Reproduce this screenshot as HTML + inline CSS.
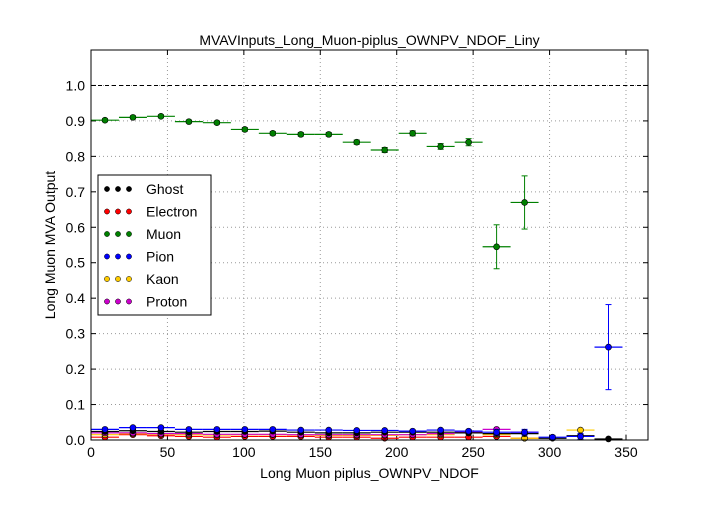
<!DOCTYPE html>
<html><head><meta charset="utf-8"><style>
body{margin:0;background:#fff;font-family:"Liberation Sans",sans-serif}
svg text{font-family:"Liberation Sans",sans-serif}
</style></head><body>
<svg id="c" width="720" height="504"></svg>
<script>
const binWidth=18.3;
const muon=[0.902,0.910,0.913,0.898,0.895,0.876,0.865,0.862,0.862,0.840,0.818,0.865,0.828,0.840,0.545,0.670];
const muonErr=[0.004,0.004,0.004,0.004,0.004,0.005,0.005,0.005,0.005,0.006,0.007,0.007,0.008,0.01,0.062,0.075];
const pion=[0.030,0.035,0.035,0.030,0.030,0.030,0.030,0.028,0.028,0.027,0.027,0.025,0.028,0.025,0.022,0.022,0.008,0.010,0.262];
const pionErr=[0.002,0.002,0.002,0.002,0.002,0.002,0.002,0.002,0.002,0.002,0.002,0.002,0.003,0.004,0.008,0.008,0.005,0.008,0.12];
const ghost=[0.024,0.026,0.024,0.022,0.024,0.024,0.025,0.022,0.020,0.020,0.022,0.022,0.022,0.020,0.018,0.018,0.005,0.012,0.003];
const electron=[0.008,0.015,0.012,0.010,0.008,0.010,0.010,0.010,0.008,0.008,0.005,0.008,0.008,0.008,0.010,0.005,0,0,0];
const kaon=[0.015,0.018,0.016,0.015,0.014,0.015,0.015,0.014,0.013,0.013,0.013,0.015,0.015,0.020,0.015,0.005,0,0.028,0];
const proton=[0.020,0.020,0.018,0.018,0.016,0.016,0.016,0.015,0.015,0.015,0.015,0.015,0.018,0.022,0.030,0.022,0,0,0];
const xTicks=[0,50,100,150,200,250,300,350];
const yTicks=[0,0.1,0.2,0.3,0.4,0.5,0.6,0.7,0.8,0.9,1.0];
const L=91,R=648,T=50,B=440,XMAX=364.4,YMAX=1.1;
const sx=v=>L+v/XMAX*(R-L), sy=v=>B-v/YMAX*(B-T);
const svg=document.getElementById('c');const NS='http://www.w3.org/2000/svg';
function el(t,a,p){const e=document.createElementNS(NS,t);for(const k in a)e.setAttribute(k,a[k]);(p||svg).appendChild(e);return e;}
// grid
xTicks.forEach(v=>{if(v>0){const g=el('line',{x1:sx(v),x2:sx(v),y1:T,y2:B,stroke:'#999','stroke-dasharray':'1,3'});

}
const t=el('text',{x:sx(v),y:B+17,'text-anchor':'middle','font-size':14});t.textContent=v;


el('line',{x1:sx(v),x2:sx(v),y1:B,y2:B-5,stroke:'#000'});el('line',{x1:sx(v),x2:sx(v),y1:T,y2:T+5,stroke:'#000'});});
yTicks.forEach(v=>{if(v>0){const g=el('line',{x1:L,x2:R,y1:sy(v),y2:sy(v),stroke:'#999','stroke-dasharray':'1,3'});

}
const t=el('text',{x:L-6,y:sy(v)+5,'text-anchor':'end','font-size':14});t.textContent=v.toFixed(1);


el('line',{x1:L,x2:L+5,y1:sy(v),y2:sy(v),stroke:'#000'});el('line',{x1:R,x2:R-5,y1:sy(v),y2:sy(v),stroke:'#000'});});
const ref=el('line',{x1:L,x2:R,y1:sy(1),y2:sy(1),stroke:'#000','stroke-dasharray':'4,3'});


function series(vals,errs,color,name){
const g=el('g',{});


vals.forEach((v,i)=>{if(v<=0&&name!=='muon')return;
const x0=sx(i*binWidth),x1=sx((i+1)*binWidth),cx=sx((i+0.5)*binWidth),cy=sy(v);
el('line',{x1:x0,x2:x1,y1:cy,y2:cy,stroke:color,'stroke-width':1.2},g);
const e=errs?errs[i]:0.002;
el('line',{x1:cx,x2:cx,y1:sy(v-e),y2:sy(v+e),stroke:color},g);
el('line',{x1:cx-3,x2:cx+3,y1:sy(v-e),y2:sy(v-e),stroke:color},g);
el('line',{x1:cx-3,x2:cx+3,y1:sy(v+e),y2:sy(v+e),stroke:color},g);
const d=el('circle',{cx:cx,cy:cy,r:3,fill:color,stroke:'#000','stroke-width':0.6},g);

});}
series(electron,null,'#ff0000','electron');
series(kaon,null,'#ffcc00','kaon');
series(proton,null,'#cc00cc','proton');
series(ghost,null,'#000000','ghost');
series(pion,pionErr,'#0000ff','pion');
series(muon,muonErr,'#008000','muon');
const fr=el('rect',{x:L,y:T,width:R-L,height:B-T,fill:'none',stroke:'#000'});


const tt=el('text',{x:(L+R)/2,y:45,'text-anchor':'middle','font-size':14});tt.textContent='MVAVInputs_Long_Muon-piplus_OWNPV_NDOF_Liny';


const xl=el('text',{x:(L+R)/2,y:478,'text-anchor':'middle','font-size':14});xl.textContent='Long Muon piplus_OWNPV_NDOF';


const yl=el('text',{x:55,y:245,'text-anchor':'middle','font-size':14,transform:'rotate(-90 55 245)'});yl.textContent='Long Muon MVA Output';


const lg=el('g',{});


el('rect',{x:98,y:175,width:113,height:140,fill:'#fff',stroke:'#000'},lg);
const names=['Ghost','Electron','Muon','Pion','Kaon','Proton'];
const cols=['#000000','#ff0000','#008000','#0000ff','#ffcc00','#cc00cc'];
names.forEach((n,i)=>{const y=189+i*22.5;
const e=el('g',{},lg);


[107,118,129].forEach(x=>el('circle',{cx:x,cy:y,r:2.6,fill:cols[i],stroke:'#000','stroke-width':0.5},e));
const t=el('text',{x:146,y:y+5,'font-size':14},e);t.textContent=n;});
</script>
</body></html>
